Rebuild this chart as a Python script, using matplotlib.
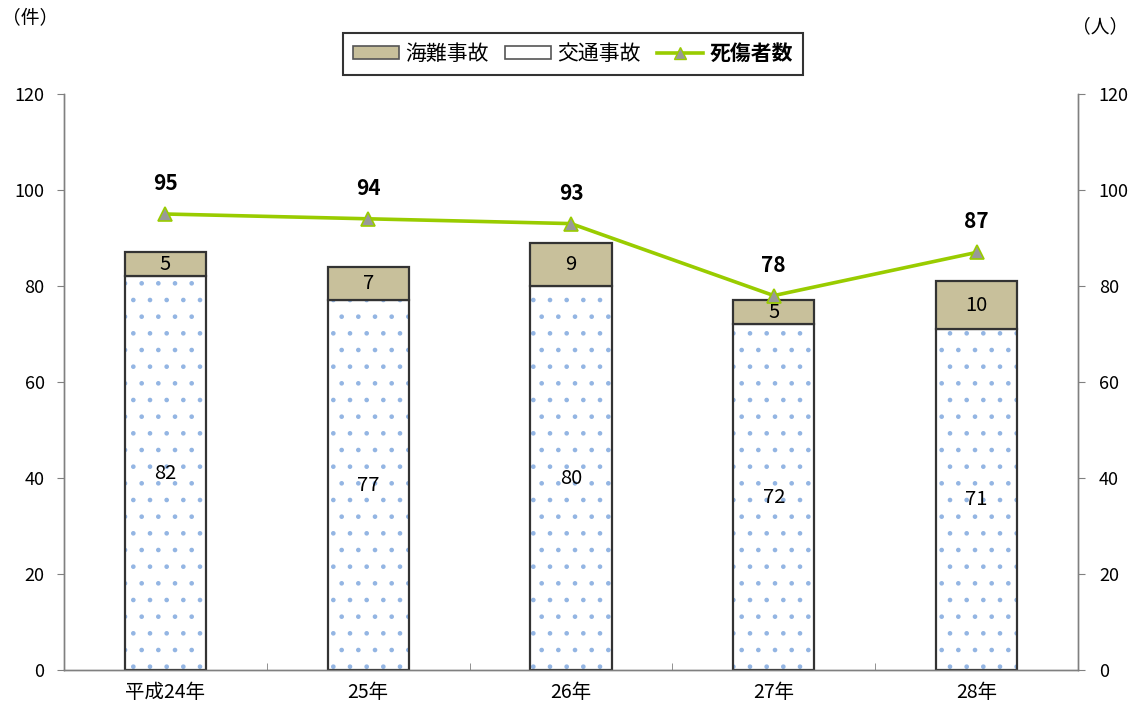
import matplotlib
matplotlib.use("Agg")
import matplotlib.pyplot as plt
from matplotlib.patches import Patch
from matplotlib.lines import Line2D
import numpy as np

plt.rcParams['font.family'] = ['Noto Sans CJK JP', 'DejaVu Sans']
plt.rcParams['hatch.linewidth'] = 0.9

categories = ["平成24年", "25年", "26年", "27年", "28年"]
traffic = [82, 77, 80, 72, 71]
marine = [5, 7, 9, 5, 10]
casualties = [95, 94, 93, 78, 87]

TAN = "#C8C09B"
GREEN = "#99CC00"
DOT = "#93B5E3"
EDGE = "#333333"
SPINE = "#808080"

fig = plt.figure(figsize=(11.37, 7.11), dpi=100)
ax = fig.add_axes([64/1137, 1-670/711, (1078-64)/1137, (670-94)/711])
ax2 = ax.twinx()

x = np.arange(len(categories))
w = 0.40

# traffic accidents (dotted)
ax.bar(x, traffic, width=w, color="white", edgecolor=DOT, linewidth=0, hatch=".", zorder=2)
ax.bar(x, traffic, width=w, fill=False, edgecolor=EDGE, linewidth=1.6, zorder=3)
# marine accidents
ax.bar(x, marine, bottom=traffic, width=w, color=TAN, edgecolor=EDGE, linewidth=1.6, zorder=3)

for i in range(len(x)):
    ax.text(x[i], traffic[i] / 2, str(traffic[i]), ha="center", va="center",
            fontsize=14.5, zorder=4)
    ax.text(x[i], traffic[i] + marine[i] / 2, str(marine[i]), ha="center", va="center",
            fontsize=14.5, zorder=4)

ax2.plot(x, casualties, color=GREEN, linewidth=2.6, marker="^", markersize=9.5,
         markerfacecolor="#999999", markeredgecolor=GREEN, markeredgewidth=1.2, zorder=5)
for i in range(len(x)):
    ax2.annotate(str(casualties[i]), (x[i], casualties[i]), xytext=(0, 22),
                 textcoords="offset points", ha="center", va="center",
                 fontsize=15, fontweight="bold")

for a in (ax, ax2):
    a.set_ylim(0, 120)
    a.set_xlim(-0.5, len(categories) - 0.5)
    a.set_yticks(np.arange(0, 121, 20))
    a.spines["top"].set_visible(False)
    for s in ("left", "right", "bottom"):
        a.spines[s].set_color(SPINE)
        a.spines[s].set_linewidth(1.0)

ax.tick_params(axis="y", direction="out", length=5, color=SPINE, labelsize=13, pad=9)
ax2.tick_params(axis="y", direction="out", length=5, color=SPINE, labelsize=13, pad=10)

ax.set_xticks(x)
ax.set_xticklabels(categories, fontsize=14)
ax.tick_params(axis="x", length=0, pad=9)
ax.set_xticks(np.arange(-0.5, len(categories), 1.0), minor=True)
ax.tick_params(axis="x", which="minor", direction="in", length=5, color=SPINE)

fig.text(30/1137, 1-18/711, "（件）", ha="center", va="center", fontsize=13.5)
fig.text(1100/1137, 1-27/711, "（人）", ha="center", va="center", fontsize=13.5)

handles = [
    Patch(facecolor=TAN, edgecolor="#555555", linewidth=1.2),
    Patch(facecolor="white", edgecolor="#555555", linewidth=1.2),
    Line2D([0], [0], color=GREEN, linewidth=2.6, marker="^", markersize=9,
           markerfacecolor="#999999", markeredgecolor=GREEN),
]
leg = fig.legend(handles, ["海難事故", "交通事故", "死傷者数"], loc="center",
                 bbox_to_anchor=(573/1137, 1-54/711), ncol=3, frameon=True,
                 fancybox=False, edgecolor="black", fontsize=15,
                 handlelength=2.2, handleheight=0.6, handletextpad=0.3,
                 columnspacing=0.8, borderpad=0.5)
leg.get_frame().set_linewidth(1.5)
leg.get_texts()[2].set_fontweight("bold")

fig.savefig("out.png", dpi=100)
